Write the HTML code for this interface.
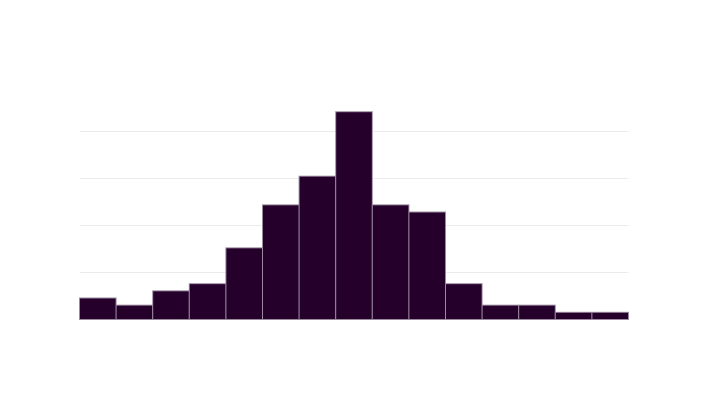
<!DOCTYPE html>
<html><head><meta charset="utf-8"><style>
html,body{margin:0;padding:0;background:#fff;}
svg{display:block;font-family:"Liberation Sans",sans-serif;}
</style></head><body>
<svg id="chart" width="707" height="400" viewBox="0 0 707 400"></svg>
<script>
const binCounts = [3,2,4,5,10,16,20,29,16,15,5,2,2,1,1];
const gridTicks = [0, 6.56, 13.12, 19.68, 26.24];
const svgNS = "http://www.w3.org/2000/svg";
const svg = document.getElementById('chart');
const x0 = 79.5, x1 = 628.5, yBase = 319.5, pxPerUnit = 7.165;
const yScale = v => yBase - v * pxPerUnit;
const bw = (x1 - x0) / binCounts.length;
const xScale = i => x0 + i * bw;
const grid = document.createElementNS(svgNS, 'g');


svg.appendChild(grid);
gridTicks.forEach((t, i) => {
  if (i === 0) return;
  const l = document.createElementNS(svgNS, 'line');
  
  
  l.setAttribute('x1', x0); l.setAttribute('x2', x1);
  l.setAttribute('y1', yScale(t)); l.setAttribute('y2', yScale(t));
  l.setAttribute('stroke', '#ebebeb'); l.setAttribute('stroke-width', '1');
  grid.appendChild(l);
});
const bars = document.createElementNS(svgNS, 'g');


svg.appendChild(bars);
binCounts.forEach((c, i) => {
  const r = document.createElementNS(svgNS, 'rect');
  
  
  r.setAttribute('x', xScale(i)); r.setAttribute('width', bw);
  r.setAttribute('y', yScale(c)); r.setAttribute('height', c * pxPerUnit);
  r.setAttribute('fill', '#24002a');
  r.setAttribute('stroke', '#9a8a9e'); r.setAttribute('stroke-width', '1');
  bars.appendChild(r);
});
</script>
</body></html>
